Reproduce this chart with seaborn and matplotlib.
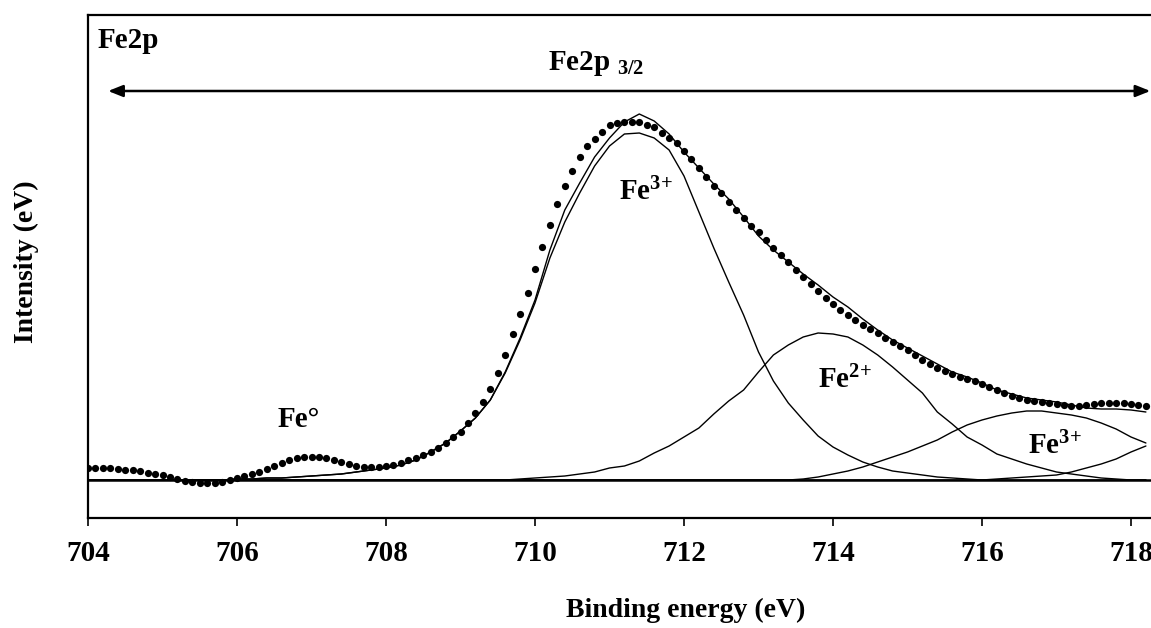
import numpy as np
import pandas as pd
import matplotlib
matplotlib.use("Agg")
import matplotlib.pyplot as plt
import seaborn as sns

# --- Data: Fe2p XPS spectrum (intensity in arbitrary units, 0 = background) ---
# measured points, 0.1 eV apart
DATA_BE = [
    704.0, 704.1, 704.2, 704.3, 704.4, 704.5, 704.6, 704.7, 704.8, 704.9,
    705.0, 705.1, 705.2, 705.3, 705.4, 705.5, 705.6, 705.7, 705.8, 705.9,
    706.0, 706.1, 706.2, 706.3, 706.4, 706.5, 706.6, 706.7, 706.8, 706.9,
    707.0, 707.1, 707.2, 707.3, 707.4, 707.5, 707.6, 707.7, 707.8, 707.9,
    708.0, 708.1, 708.2, 708.3, 708.4, 708.5, 708.6, 708.7, 708.8, 708.9,
    709.0, 709.1, 709.2, 709.3, 709.4, 709.5, 709.6, 709.7, 709.8, 709.9,
    710.0, 710.1, 710.2, 710.3, 710.4, 710.5, 710.6, 710.7, 710.8, 710.9,
    711.0, 711.1, 711.2, 711.3, 711.4, 711.5, 711.6, 711.7, 711.8, 711.9,
    712.0, 712.1, 712.2, 712.3, 712.4, 712.5, 712.6, 712.7, 712.8, 712.9,
    713.0, 713.1, 713.2, 713.3, 713.4, 713.5, 713.6, 713.7, 713.8, 713.9,
    714.0, 714.1, 714.2, 714.3, 714.4, 714.5, 714.6, 714.7, 714.8, 714.9,
    715.0, 715.1, 715.2, 715.3, 715.4, 715.5, 715.6, 715.7, 715.8, 715.9,
    716.0, 716.1, 716.2, 716.3, 716.4, 716.5, 716.6, 716.7, 716.8, 716.9,
    717.0, 717.1, 717.2, 717.3, 717.4, 717.5, 717.6, 717.7, 717.8, 717.9,
    718.0, 718.1, 718.2,
]
DATA_INT = [
    12, 12, 12, 12, 11, 10, 10, 9, 7, 6,
    5, 3, 1, -1, -2, -3, -3, -3, -2, 0,
    2, 4, 6, 8, 11, 14, 17, 20, 22, 23,
    23, 23, 22, 20, 18, 16, 14, 13, 13, 13,
    14, 15, 17, 20, 22, 25, 28, 32, 37, 43,
    48, 57, 67, 78, 91, 107, 125, 146, 166, 187,
    211, 233, 255, 276, 294, 309, 323, 334, 341, 348,
    355, 357, 358, 358, 358, 355, 353, 347, 342, 337,
    329, 321, 312, 303, 294, 287, 278, 270, 262, 254,
    248, 240, 232, 225, 218, 210, 203, 196, 189, 182,
    176, 170, 165, 160, 155, 151, 147, 142, 138, 134,
    130, 125, 120, 116, 112, 109, 106, 103, 101, 99,
    96, 93, 90, 87, 84, 82, 80, 79, 78, 77,
    76, 75, 74, 74, 75, 76, 77, 77, 77, 77,
    76, 75, 74,
]

# fitted curves, 0.2 eV apart
FIT_BE = [
    704.0, 704.2, 704.4, 704.6, 704.8, 705.0, 705.2, 705.4, 705.6, 705.8,
    706.0, 706.2, 706.4, 706.6, 706.8, 707.0, 707.2, 707.4, 707.6, 707.8,
    708.0, 708.2, 708.4, 708.6, 708.8, 709.0, 709.2, 709.4, 709.6, 709.8,
    710.0, 710.2, 710.4, 710.6, 710.8, 711.0, 711.2, 711.4, 711.6, 711.8,
    712.0, 712.2, 712.4, 712.6, 712.8, 713.0, 713.2, 713.4, 713.6, 713.8,
    714.0, 714.2, 714.4, 714.6, 714.8, 715.0, 715.2, 715.4, 715.6, 715.8,
    716.0, 716.2, 716.4, 716.6, 716.8, 717.0, 717.2, 717.4, 717.6, 717.8,
    718.0, 718.2,
]
FIT_ENVELOPE = [0] * 10 + [
    1, 1, 2, 2, 3, 4, 5, 6, 8, 10,
    12, 15, 20, 28, 37, 49, 62, 80, 108, 142,
    180, 230, 270, 297, 323, 342, 358, 366, 359, 346,
    328, 312, 296, 281, 263, 244, 230, 218, 206, 195,
    183, 173, 161, 150, 140, 132, 124, 116, 108, 103,
    97, 90, 86, 82, 80, 78, 75, 72, 71, 71,
    70, 68,
]
FIT_FE3 = [0] * 10 + [
    1, 1, 2, 2, 3, 4, 5, 6, 8, 10,
    12, 15, 20, 28, 37, 49, 62, 80, 107, 140,
    177, 222, 258, 287, 314, 334, 346, 347, 342, 330,
    304, 268, 232, 198, 165, 128, 99, 77, 60, 44,
    33, 25, 18, 13, 9, 7, 5, 3, 2, 1,
] + [0] * 12
FIT_FE2 = [0] * 29 + [
    1,
    2, 3, 4, 6, 8, 12, 14, 19, 27, 34,
    43, 52, 66, 79, 90, 108, 125, 135, 143, 147,
    146, 143, 135, 125, 113, 100, 87, 68, 56, 43,
    35, 26, 21, 16, 12, 8, 6, 4, 2, 1,
    0, 0,
]
FIT_FE3_SAT = [0] * 48 + [
    1, 3,
    6, 9, 13, 18, 23, 28, 34, 40, 48, 55,
    60, 64, 67, 69, 69, 67, 65, 62, 57, 51,
    43, 37,
]
FIT_TAIL = [0] * 60 + [
    0, 1, 2, 3, 4, 5, 8, 12, 16, 21,
    28, 34,
]

XTICKS = [704, 706, 708, 710, 712, 714, 716, 718]

W, H = 1151, 628


def set_style():
    sns.set_theme(style="white")
    plt.rcParams['font.family'] = ['Liberation Serif', 'DejaVu Serif']
    plt.rcParams['font.weight'] = 'bold'
    plt.rcParams['text.color'] = 'black'
    plt.rcParams['axes.labelcolor'] = 'black'
    plt.rcParams['xtick.color'] = 'black'
    plt.rcParams['mathtext.fontset'] = 'custom'
    plt.rcParams['mathtext.rm'] = 'Liberation Serif:bold'
    plt.rcParams['mathtext.bf'] = 'Liberation Serif:bold'
    plt.rcParams['mathtext.it'] = 'Liberation Serif:bold'


def main():
    set_style()
    fig = plt.figure(figsize=(W / 100, H / 100), dpi=100)
    # axes box: left 88px, top 15px, bottom 518px, runs past the right edge
    ax = fig.add_axes([88 / W, (H - 518) / H, (W - 88) / W, (518 - 15) / H])

    fit = pd.DataFrame({
        "be": FIT_BE,
        "Envelope": FIT_ENVELOPE,
        "Fe3": FIT_FE3,
        "Fe2": FIT_FE2,
        "Fe3 sat": FIT_FE3_SAT,
        "tail": FIT_TAIL,
    }).melt(id_vars="be", var_name="curve", value_name="intensity")

    ax.axhline(0, color="black", lw=1.8, zorder=1)
    sns.lineplot(data=fit, x="be", y="intensity", units="curve", estimator=None,
                 color="black", lw=1.0, sort=False, ax=ax, zorder=2)
    sns.scatterplot(x=DATA_BE, y=DATA_INT, s=27, color="black", linewidth=0,
                    ax=ax, zorder=3)

    ax.set_xlim(704, 704 + (W - 88) / 74.5)
    ax.set_ylim(-38, 465)
    ax.set_xticks(XTICKS)
    ax.set_xticklabels([str(t) for t in XTICKS], fontsize=21, fontweight="bold")
    ax.set_yticks([])
    ax.tick_params(axis="x", direction="out", length=6, width=1.2, pad=10,
                   bottom=True, colors="black")
    ax.set_xlabel("")
    ax.set_ylabel("")
    for side in ["left", "top", "bottom"]:
        ax.spines[side].set_color("black")
        ax.spines[side].set_linewidth(1.6)
    ax.spines["right"].set_visible(False)

    # peak labels
    txt = dict(fontsize=21, fontweight="bold", ha="left", va="baseline")
    ax.text(706.55, 53, "Fe°", **txt)
    ax.text(711.13, 280, "Fe$^{3{+}}$", **txt)
    ax.text(713.80, 92, "Fe$^{2{+}}$", **txt)
    ax.text(716.62, 26, "Fe$^{3{+}}$", **txt)

    # Fe2p 3/2 range arrow
    ax.annotate("", xy=(718.26, 389), xytext=(704.27, 389),
                arrowprops=dict(arrowstyle="<|-|>,head_length=0.55,head_width=0.22",
                                mutation_scale=16, lw=1.8, color="black",
                                shrinkA=0, shrinkB=0), annotation_clip=False)
    ax.text(710.82, 410, "Fe2p $_{3/2}$", fontsize=21, fontweight="bold",
            ha="center", va="baseline")
    ax.text(0.0094, 0.934, "Fe2p", transform=ax.transAxes, fontsize=21,
            fontweight="bold", ha="left", va="baseline")

    fig.text(686 / W, 1 - 610 / H, "Binding energy (eV)", fontsize=20,
             fontweight="bold", ha="center", va="center")
    fig.text(26 / W, 1 - 262 / H, "Intensity (eV)", fontsize=20,
             fontweight="bold", ha="center", va="center", rotation=90)

    fig.savefig("out.png", dpi=100)
    plt.close(fig)


if __name__ == "__main__":
    main()
